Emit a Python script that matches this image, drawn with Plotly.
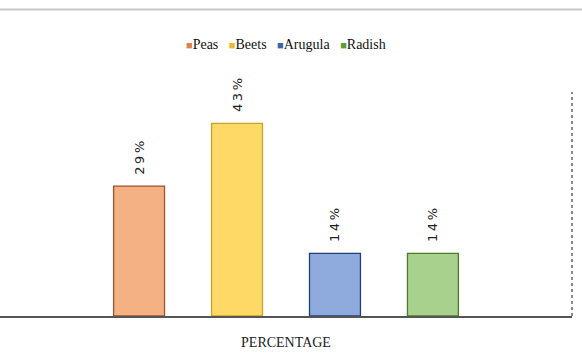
import plotly.graph_objects as go

# Share of each crop, in percent
category = ["PERCENTAGE"]
crops = ["Peas", "Beets", "Arugula", "Radish"]
shares = [29, 43, 14, 14]

fills = ["#F4B183", "#FFD966", "#8FAADC", "#A9D18E"]
edges = ["#A0522D", "#C9A227", "#203F7A", "#4E7A2E"]
keys = ["#D9824F", "#E8BC2E", "#3C63A8", "#5F9A3C"]


def spaced(s):
    # loosely tracked label text
    return "\u2009".join(s)


fig = go.Figure()
for name, val, fc, ec in zip(crops, shares, fills, edges):
    fig.add_trace(go.Bar(
        name=name,
        x=category,
        y=[val],
        text=["\u00a0\u00a0" + spaced(f"{val}%")],
        textposition="outside",
        textangle=-90,
        cliponaxis=False,
        textfont=dict(family="DejaVu Sans", size=13, color="#222222"),
        marker=dict(color=fc, line=dict(color=ec, width=1.3)),
        showlegend=False,
    ))

# compact key row above the plot: small coloured square followed by the crop name
key_text = "&nbsp;&nbsp;&nbsp;".join(
    f"<span style='color:{k}; font-size:11px'>■</span>{n}" for n, k in zip(crops, keys)
)
fig.add_annotation(
    xref="paper", yref="paper", x=0.5, y=1.214, xanchor="center", yanchor="middle",
    text=key_text, showarrow=False,
    font=dict(family="Liberation Serif", size=14, color="#111111"),
)

fig.update_layout(
    width=582, height=363,
    margin=dict(l=0, r=10, t=92, b=47),
    paper_bgcolor="white", plot_bgcolor="white",
    barmode="group", bargap=0.315, bargroupgap=0.48,
    font=dict(family="Liberation Serif", color="#222222"),
)
fig.update_xaxes(
    showticklabels=False, ticks="",
    showline=True, linecolor="#555555", linewidth=2,
    title=dict(text="PERCENTAGE", font=dict(family="Liberation Serif", size=14, color="#222222"),
               standoff=20),
)
fig.update_yaxes(range=[0, 50], visible=False, showgrid=False, zeroline=False)

# dotted frame on the right edge of the plot area
fig.add_shape(type="line", xref="paper", yref="paper", x0=1, x1=1, y0=0, y1=1,
              line=dict(color="#666666", width=1.5, dash="dot"))
# thin gray rule across the top of the chart
fig.add_shape(type="line", xref="paper", yref="paper", x0=-0.01, x1=1.03,
              y0=1.368, y1=1.368, line=dict(color="#C8C8C8", width=2))

fig.write_html("out.html")
